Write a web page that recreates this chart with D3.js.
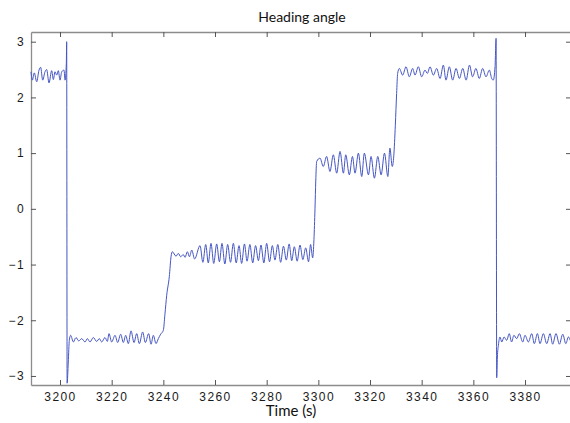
<!DOCTYPE html>
<html>
<head>
<meta charset="utf-8">
<script src="https://cdn.jsdelivr.net/npm/d3@7"></script>
<style>
  html, body { margin: 0; padding: 0; background: #fff; }
  svg { display: block; }
</style>
</head>
<body>
<svg id="chart" width="570" height="423"></svg>
<script>
// Heading angle (rad) sampled at its local peaks, troughs and turning points
const time = [
  3188.77, 3189.29, 3190.06, 3190.97, 3191.87, 3192.52, 3193.29, 3194.19, 3194.84, 3195.74,
  3196.77, 3197.42, 3198.06, 3198.71, 3199.35, 3200.00, 3200.65, 3201.55, 3201.94, 3202.45,
  3202.58, 3202.75, 3203.20, 3203.60, 3204.13,
  3205.16, 3206.19, 3207.23, 3208.39, 3209.68, 3210.58, 3211.61, 3212.90, 3214.19, 3215.23,
  3216.13, 3217.42, 3218.32, 3218.97, 3220.00, 3221.29, 3222.32, 3223.48, 3224.52, 3225.42,
  3226.45, 3227.48, 3228.65, 3229.68, 3230.71, 3232.00, 3233.03, 3234.32, 3235.23, 3236.13,
  3237.16, 3238.06, 3238.97, 3240.00,
  3240.60, 3241.30, 3242.30, 3243.00, 3243.50,
  3244.90, 3245.80, 3246.70, 3247.70, 3248.40, 3249.30, 3250.10, 3251.00, 3252.10,
  3254.20, 3255.30, 3256.40, 3257.40, 3258.45, 3259.50, 3260.65, 3261.70, 3262.70, 3263.80,
  3264.90, 3266.00, 3267.10, 3268.20, 3269.30, 3270.30, 3271.40, 3272.40, 3273.50, 3274.60,
  3275.70, 3276.80, 3277.80, 3278.90, 3280.00, 3281.10, 3282.20, 3283.20, 3284.30, 3285.40,
  3286.50, 3287.60, 3288.70, 3289.70, 3290.70, 3291.80, 3292.90, 3294.00, 3295.10, 3296.20,
  3297.00, 3297.80,
  3298.30, 3298.70, 3299.00, 3299.35,
  3300.65, 3301.90, 3303.20, 3304.50, 3305.80, 3307.10, 3308.40, 3309.70, 3310.60, 3312.00,
  3313.20, 3314.20, 3315.50, 3316.80, 3317.80, 3319.40, 3320.40, 3321.70, 3323.00, 3324.30,
  3325.60, 3326.90, 3327.70, 3328.60,
  3329.20, 3329.80, 3330.30, 3330.70, 3331.35,
  3332.64, 3333.93, 3335.22, 3336.51, 3337.42, 3338.71, 3340.00, 3341.29, 3342.19, 3343.23,
  3344.51, 3345.80, 3347.10, 3348.40, 3349.40, 3350.70, 3352.00, 3353.30, 3354.60, 3355.90,
  3357.20, 3358.50, 3359.70, 3361.00, 3362.30, 3363.60, 3364.90, 3366.20, 3367.10, 3367.70,
  3368.40, 3368.80, 3369.04, 3369.30, 3369.70, 3370.30,
  3371.00, 3371.90, 3372.90, 3373.90, 3374.80, 3375.70, 3376.80, 3377.80, 3379.10, 3380.00,
  3381.30, 3382.60, 3383.60, 3384.80, 3385.80, 3387.10, 3388.40, 3389.70, 3390.70, 3392.00,
  3393.30, 3394.60, 3395.80, 3396.80, 3397.80
];

const heading = [
  2.46, 2.31, 2.44, 2.28, 2.49, 2.54, 2.31, 2.46, 2.50, 2.26,
  2.48, 2.32, 2.46, 2.40, 2.48, 2.31, 2.46, 2.49, 2.31, 2.61,
  3.00, -3.13, -2.75, -2.36, -2.27,
  -2.39, -2.31, -2.37, -2.33, -2.39, -2.33, -2.39, -2.31, -2.38, -2.33,
  -2.39, -2.31, -2.38, -2.24, -2.39, -2.27, -2.40, -2.25, -2.40, -2.27,
  -2.42, -2.19, -2.40, -2.24, -2.42, -2.21, -2.40, -2.24, -2.43, -2.27,
  -2.42, -2.33, -2.25, -2.18,
  -1.90, -1.55, -1.22, -0.85, -0.77,
  -0.85, -0.80, -0.86, -0.82, -0.87, -0.77, -0.86, -0.74, -0.90,
  -0.66, -0.96, -0.64, -0.97, -0.62, -0.98, -0.63, -0.95, -0.62, -0.99,
  -0.64, -0.96, -0.62, -0.97, -0.66, -0.98, -0.63, -0.94, -0.64, -0.97,
  -0.66, -0.93, -0.65, -0.97, -0.62, -0.95, -0.66, -0.92, -0.64, -0.96,
  -0.67, -0.92, -0.63, -0.93, -0.68, -0.94, -0.65, -0.91, -0.70, -0.95,
  -0.64, -0.88,
  -0.55, 0.00, 0.50, 0.85,
  0.91, 0.76, 0.94, 0.67, 0.97, 0.64, 1.03, 0.64, 0.97, 0.61,
  0.94, 0.64, 1.00, 0.58, 1.00, 0.61, 0.94, 0.55, 0.94, 0.61,
  1.00, 0.58, 1.09, 0.76,
  0.95, 1.50, 2.07, 2.43, 2.52,
  2.40, 2.55, 2.37, 2.52, 2.40, 2.55, 2.37, 2.49, 2.43, 2.55,
  2.40, 2.52, 2.34, 2.58, 2.31, 2.55, 2.31, 2.52, 2.34, 2.52,
  2.31, 2.58, 2.37, 2.52, 2.34, 2.52, 2.37, 2.49, 2.34, 2.31,
  2.55, 3.06, -3.03, -2.66, -2.45, -2.30,
  -2.39, -2.30, -2.36, -2.24, -2.39, -2.27, -2.33, -2.24, -2.39, -2.27,
  -2.39, -2.24, -2.42, -2.24, -2.42, -2.24, -2.42, -2.24, -2.43, -2.24,
  -2.43, -2.25, -2.42, -2.30, -2.40
];

const xTicks = [3200, 3220, 3240, 3260, 3280, 3300, 3320, 3340, 3360, 3380];
const yTicks = [-3, -2, -1, 0, 1, 2, 3];
const xDomain = [3188.77, 3397.8];
const yDomain = [-3.162, 3.174];

const margin = { left: 31, right: 571, top: 32, bottom: 385 };

const svg = d3.select("#chart");

const x = d3.scaleLinear().domain(xDomain).range([margin.left, margin.right]);
const y = d3.scaleLinear().domain(yDomain).range([margin.bottom, margin.top]);

const axisColor = "#8c8c8c";
const tickFont = "'Liberation Sans', Arial, sans-serif";

function styleAxis(g) {
  g.selectAll(".domain").attr("stroke", axisColor).attr("stroke-width", 1.3);
  g.selectAll(".tick line").attr("stroke", "#555").attr("stroke-width", 1);
  g.selectAll(".tick text")
    .attr("fill", "#1a1a1a")
    .style("font-family", tickFont)
    .style("font-size", "12px")
    .style("letter-spacing", "1.4px");
}

// bottom axis with labels, ticks pointing into the plot
svg.append("g")
  .attr("transform", `translate(0,${margin.bottom})`)
  .call(d3.axisBottom(x).tickValues(xTicks).tickFormat(d3.format("d"))
    .tickSizeInner(-5).tickSizeOuter(0).tickPadding(7))
  .call(styleAxis);

// top axis, ticks only
svg.append("g")
  .attr("transform", `translate(0,${margin.top})`)
  .call(d3.axisTop(x).tickValues(xTicks).tickFormat("")
    .tickSizeInner(-5).tickSizeOuter(0))
  .call(styleAxis);

// left axis with labels
svg.append("g")
  .attr("transform", `translate(${margin.left},0)`)
  .call(d3.axisLeft(y).tickValues(yTicks).tickFormat(d3.format("d"))
    .tickSizeInner(-5).tickSizeOuter(0).tickPadding(6))
  .call(styleAxis);

// right axis, ticks only
svg.append("g")
  .attr("transform", `translate(${margin.right},0)`)
  .call(d3.axisRight(y).tickValues(yTicks).tickFormat("")
    .tickSizeInner(-5).tickSizeOuter(0))
  .call(styleAxis);

// heading trace
const points = time.map((t, i) => [t, heading[i]]);
const line = d3.line()
  .x(d => x(d[0]))
  .y(d => y(d[1]))
  .curve(d3.curveMonotoneX);

svg.append("path")
  .datum(points)
  .attr("fill", "none")
  .attr("stroke", "#4556c4")
  .attr("stroke-width", 1)
  .attr("stroke-linejoin", "round")
  .attr("d", line);

// title and axis label
svg.append("text")
  .attr("x", 302)
  .attr("y", 22)
  .attr("text-anchor", "middle")
  .style("font-family", "Lato, 'Open Sans', sans-serif")
  .style("font-size", "14px")
  .attr("fill", "#111")
  .text("Heading angle");

svg.append("text")
  .attr("x", 291)
  .attr("y", 416)
  .attr("text-anchor", "middle")
  .style("font-family", "Lato, 'Open Sans', sans-serif")
  .style("font-size", "15px")
  .attr("fill", "#111")
  .text("Time (s)");
</script>
</body>
</html>
